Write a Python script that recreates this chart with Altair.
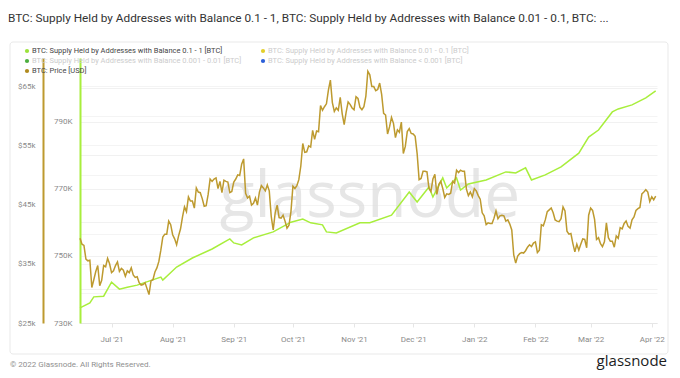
import altair as alt
import pandas as pd

# ---------------- data ----------------
price_start = "2021-06-15"
price_usd = [
    # Jun 15-30 2021
    39300, 38300, 38100, 35800, 35500, 35600, 31000, 32300, 33700, 34700, 31300, 32200, 34700, 34500, 35900, 35000,
    # Jul
    33500, 33800, 34700, 35300, 33700, 34200, 33900, 32900, 33800, 33500, 34300, 33100, 32700, 32800, 31800, 31400,
    31500, 31800, 30800, 29800, 32100, 32300, 33600, 34300, 35400, 37300, 39500, 40000, 40000, 42200, 41600,
    # Aug
    39900, 39200, 38200, 39700, 40900, 42900, 44600, 43800, 46300, 45600, 45600, 44400, 47800, 47100, 47000, 46000,
    44700, 44800, 46700, 49300, 48900, 49300, 49500, 47700, 48900, 47000, 49100, 48900, 48800, 47000, 47200,
    # Sep
    48800, 49300, 50000, 49900, 51800, 52700, 46900, 46100, 46400, 44900, 45200, 46100, 44900, 47100, 48200, 47800,
    47300, 48300, 47300, 43000, 40700, 43600, 44900, 42800, 42700, 43200, 42200, 41000, 41500, 43800,
    # Oct
    48100, 47700, 48200, 49200, 51500, 55300, 53800, 53900, 54900, 54700, 57500, 56000, 57400, 57300, 61700, 60900,
    61500, 62000, 64300, 66000, 62200, 60700, 61300, 60900, 63100, 60300, 58500, 60600, 62300, 61900, 61300,
    # Nov
    61000, 63200, 62900, 61400, 61000, 61500, 63300, 67500, 66900, 64900, 64900, 64200, 64400, 65500, 63600, 60400,
    60100, 56900, 58100, 59700, 58700, 56300, 57600, 57200, 58900, 53600, 54800, 57300, 57800, 57000,
    # Dec
    56900, 56500, 53600, 49200, 49400, 50600, 50600, 50500, 47700, 47200, 49300, 50100, 46700, 48400, 48900, 47700,
    46200, 46800, 46700, 46900, 48900, 48600, 50800, 50400, 50800, 50600, 50600, 47600, 46500, 47100, 46300,
    # Jan 2022
    47700, 47300, 46500, 45900, 43600, 43100, 41600, 41900, 41800, 41800, 42700, 43900, 42600, 43100, 43200, 43100,
    42200, 42400, 41700, 40700, 36500, 35100, 36300, 36700, 36900, 36800, 37200, 37800, 38200, 37900, 38500,
    # Feb
    38700, 36900, 37300, 41600, 41400, 42400, 43800, 44100, 44400, 43600, 42400, 42200, 42100, 42600, 44600, 43900,
    40500, 40000, 40100, 38400, 37000, 38300, 37300, 38300, 39200, 39100, 37700, 43200,
    # Mar
    44400, 44000, 42500, 39100, 39400, 38400, 37900, 38700, 41900, 39400, 38800, 38800, 37800, 39700, 39300, 41100,
    40900, 41800, 42200, 41300, 41000, 42400, 42900, 44000, 44300, 44500, 46800, 47100, 47500, 47100, 45500,
    # Apr
    46300, 45800, 46400,
]

supply_dates = [
    "2021-06-15", "2021-06-20", "2021-06-22", "2021-06-27", "2021-07-01", "2021-07-05", "2021-07-09",
    "2021-07-14", "2021-07-26", "2021-07-27", "2021-08-03", "2021-08-11", "2021-08-21", "2021-08-30",
    "2021-09-01", "2021-09-05", "2021-09-11", "2021-09-21", "2021-09-30", "2021-10-06", "2021-10-10",
    "2021-10-16", "2021-10-18", "2021-10-23", "2021-11-04", "2021-11-09", "2021-11-20", "2021-11-29",
    "2021-12-03", "2021-12-09", "2021-12-11", "2021-12-16", "2021-12-18", "2021-12-23", "2021-12-25",
    "2021-12-29", "2022-01-07", "2022-01-17", "2022-01-22", "2022-01-27", "2022-01-30", "2022-02-06",
    "2022-02-14", "2022-02-23", "2022-02-28", "2022-03-05", "2022-03-12", "2022-03-15", "2022-03-22",
    "2022-03-29", "2022-04-03",
]
supply_k = [
    734.5, 736.0, 737.8, 738.0, 742.2, 740.1, 740.7,
    741.3, 743.7, 742.8, 746.7, 749.4, 752.1, 755.1,
    753.9, 753.3, 755.4, 757.2, 760.1, 761.0, 759.9,
    759.3, 757.2, 756.9, 759.9, 759.9, 762.2, 769.1,
    766.1, 770.6, 767.6, 773.3, 770.3, 773.3, 769.7,
    771.5, 772.7, 775.1, 774.8, 776.3, 772.7, 774.2,
    776.6, 780.7, 785.5, 787.6, 793.0, 793.9, 795.1,
    797.2, 799.3,
]

price_ticks = [25000, 30000, 35000, 40000, 45000, 50000, 55000, 60000, 65000]
supply_ticks = [730, 740, 750, 760, 770, 780, 790, 800]
month_ticks = [(2021, 7), (2021, 8), (2021, 9), (2021, 10), (2021, 11), (2021, 12),
               (2022, 1), (2022, 2), (2022, 3), (2022, 4)]

title_text = ("BTC: Supply Held by Addresses with Balance 0.1 - 1, BTC: Supply Held by Addresses "
              "with Balance 0.01 - 0.1, BTC: ...")
legend_items = [
    "BTC: Supply Held by Addresses with Balance 0.1 - 1 [BTC]",
    "BTC: Supply Held by Addresses with Balance 0.01 - 0.1 [BTC]",
    "BTC: Supply Held by Addresses with Balance 0.001 - 0.01 [BTC]",
    "BTC: Supply Held by Addresses with Balance < 0.001 [BTC]",
    "BTC: Price [USD]",
]

price_df = pd.DataFrame({
    "date": pd.date_range(price_start, periods=len(price_usd), freq="D").strftime("%Y-%m-%d"),
    "price": price_usd,
})
supply_df = pd.DataFrame({"date": supply_dates, "supply": supply_k})

# ---------------- styling ----------------
GOLD = "#bd9a2f"
LIME = "#a8ee3c"
FONT = "Roboto"

x_scale = alt.Scale(domain=[alt.DateTime(year=2021, month=6, date=15),
                            alt.DateTime(year=2022, month=4, date=3, hours=16)], nice=False)
x_axis = alt.Axis(
    values=[alt.DateTime(year=y, month=m, date=1) for y, m in month_ticks],
    format="%b '%y", labelColor="#8a8a8a", labelFontSize=8, labelFont=FONT,
    labelPadding=8, tickSize=4, tickColor="#e6e6e6", domainColor="#e6e6e6",
    grid=False, title=None,
)

supply_line = alt.Chart(supply_df).mark_line(color=LIME, strokeWidth=1.5).encode(
    x=alt.X("date:T", scale=x_scale, axis=x_axis),
    y=alt.Y("supply:Q",
            scale=alt.Scale(domain=[730, 809.1], nice=False, zero=False),
            axis=alt.Axis(orient="left", offset=0, values=supply_ticks,
                          labelExpr="datum.value % 20 == 10 ? datum.value + 'K' : ''",
                          domainColor=LIME, domainWidth=2, ticks=False,
                          grid=True, gridColor="#f1f1f1",
                          labelColor="#8a8a8a", labelFontSize=8, labelFont=FONT,
                          labelPadding=8, title=None)),
)

price_line = alt.Chart(price_df).mark_line(color=GOLD, strokeWidth=1.5).encode(
    x=alt.X("date:T", scale=x_scale, axis=x_axis),
    y=alt.Y("price:Q",
            scale=alt.Scale(domain=[25000, 69730], nice=False, zero=False),
            axis=alt.Axis(orient="left", offset=37, values=price_ticks,
                          labelExpr="datum.value % 10000 == 5000 ? '$' + datum.value / 1000 + 'k' : ''",
                          domainColor=GOLD, domainWidth=2, ticks=False,
                          grid=True, gridColor="#f4f4f4",
                          labelColor="#8a8a8a", labelFontSize=8, labelFont=FONT,
                          labelPadding=8, title=None)),
)

one = alt.Data(values=[{}])

frame = alt.Chart(one).mark_rect(fill="white", fillOpacity=0, stroke="#e9e9e9", strokeWidth=1,
                                 cornerRadius=3).encode(
    x=alt.value(-70), x2=alt.value(588), y=alt.value(-16), y2=alt.value(296))

watermark = alt.Chart(one).mark_text(
    text="glassnode", font="Open Sans", fontSize=64, fontWeight=500, color="#dedede",
    opacity=0.75, align="center", baseline="middle").encode(x=alt.value(290), y=alt.value(140))

texts = [
    alt.Chart(one).mark_text(text=title_text, font=FONT, fontSize=11.8, color="#333333",
                             align="left", baseline="middle").encode(x=alt.value(-72), y=alt.value(-40)),
    alt.Chart(one).mark_text(text="© 2022 Glassnode. All Rights Reserved.", font=FONT, fontSize=8,
                             color="#8f8f8f", align="left", baseline="middle").encode(
        x=alt.value(-70), y=alt.value(307)),
    alt.Chart(one).mark_text(text="glassnode", font="Open Sans", fontSize=15, fontWeight=500,
                             color="#1d1d1d", align="right", baseline="middle").encode(
        x=alt.value(587), y=alt.value(303)),
]

legend_spec = [
    (legend_items[0], "#9be23a", "#444444", -53, -7),
    (legend_items[1], "#e3cf2a", "#cccccc", 183, -7),
    (legend_items[2], "#4cae3e", "#cccccc", -53, 3),
    (legend_items[3], "#2b5fd9", "#cccccc", 183, 3),
    (legend_items[4], "#b08a1e", "#444444", -53, 13),
]
legend_layers = []
for label, dot, tcol, lx, ly in legend_spec:
    legend_layers.append(alt.Chart(one).mark_point(filled=True, size=18, color=dot, opacity=1).encode(
        x=alt.value(lx), y=alt.value(ly)))
    legend_layers.append(alt.Chart(one).mark_text(text=label, font=FONT, fontSize=7.5, color=tcol,
                                                  align="left", baseline="middle").encode(
        x=alt.value(lx + 5), y=alt.value(ly)))

chart = alt.layer(
    frame, watermark, supply_line, price_line, *legend_layers, *texts
).resolve_scale(y="independent").properties(
    width=577, height=265,
    padding={"left": 72, "top": 50, "right": 15, "bottom": 47},
    autosize=alt.AutoSizeParams(type="none"),
    background="white",
).configure_view(stroke=None)

chart.save("out.html", embed_options={"renderer": "svg", "actions": False})
